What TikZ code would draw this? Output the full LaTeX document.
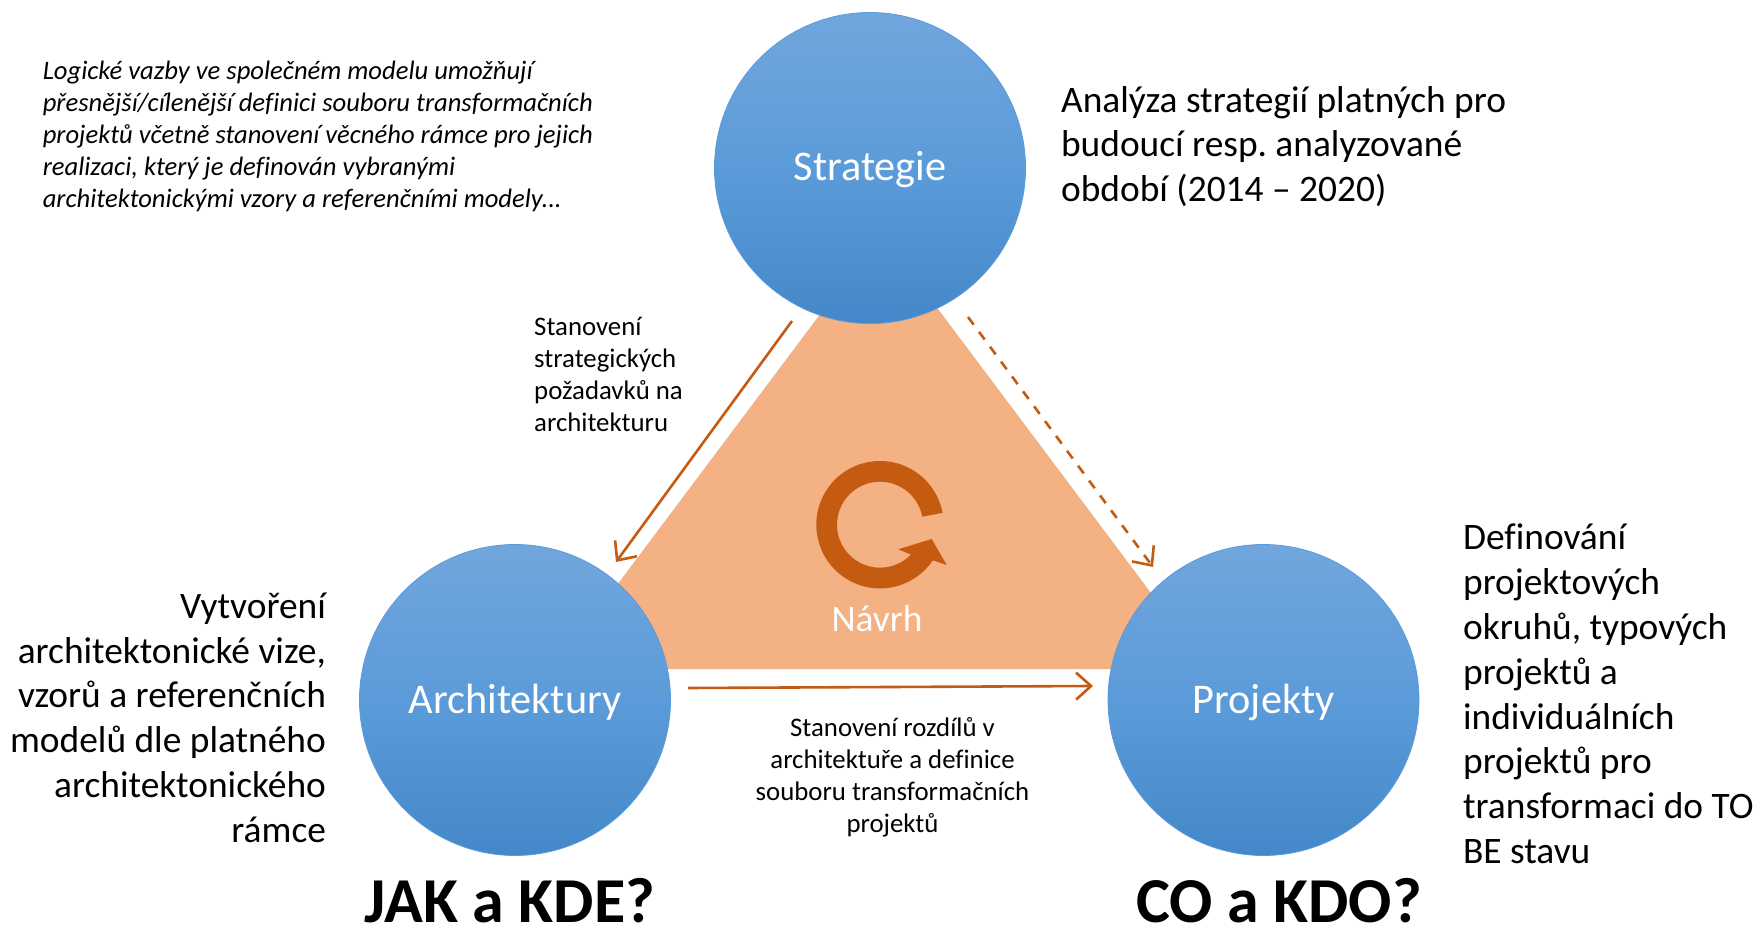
\documentclass[tikz,border=0pt]{standalone}
\usepackage{fontspec}
\setmainfont{Carlito}[Ligatures=NoCommon]
\usetikzlibrary{arrows.meta,positioning,calc}

\definecolor{navrhfill}{HTML}{F4B183}
\definecolor{navrhdark}{HTML}{C55A11}
\definecolor{kruhtop}{HTML}{71A6DD}
\definecolor{kruhmid}{HTML}{5B9BD9}
\definecolor{kruhbot}{HTML}{4488C9}

\tikzset{
  kruh/.style={circle,minimum size=311pt,inner sep=0pt,draw=kruhmid,line width=.8pt,
    top color=kruhtop,bottom color=kruhbot,middle color=kruhmid,
    text=white,text height=36pt,text depth=10pt,font=\fontsize{42.3}{49}\selectfont},
  velky/.style={inner sep=0pt,font=\fontsize{37.4}{44.8}\selectfont},
  maly/.style={inner sep=0pt,font=\fontsize{26.8}{32}\selectfont},
  otazka/.style={inner sep=0pt,anchor=base,font=\fontsize{64}{72}\selectfont\bfseries},
  sipka/.style={draw=navrhdark,line width=2.6pt,-{Straight Barb[length=15pt,width=27pt,line width=2.6pt]}}
}

\begin{document}
\frenchspacing
\begin{tikzpicture}[x=1pt,y=1pt]
      \useasboundingbox (0,0) rectangle (1758,927);

      \coordinate (t1) at (881,694);
      \coordinate (t2) at (554,258);
      \coordinate (t3) at (1208,258);
      \fill[navrhfill] (t1)--(t2)--(t3)--cycle;

      \node[kruh] (strategie) at (870,759) {Strategie};
      \node[kruh] (architektury) at (515,227) {Architektury};
      \node[kruh] (projekty) at (1263.5,227) {Projekty};

      \coordinate (s1) at (792,606);
      \coordinate (s2) at (616,365);
      \draw[sipka] (s1)--(s2);

      \coordinate (d1) at (968,610);
      \coordinate (d2) at (1153,360);
      \draw[sipka,dash pattern=on 9.5pt off 9pt] (d1)--(d2);

      \coordinate (a1) at (688,239);
      \coordinate (a2) at (1093,241);
      \draw[sipka] (a1)--(a2);

      % sipka v trojuhelniku
      \coordinate (c) at (880,402.3);
      \fill[navrhdark] ($(c)+(10.7:63.7)$) arc[start angle=10.7,end angle=326,radius=63.7]
        -- (946.7,362) -- (931.7,388) -- (898.3,377.7) -- ($(c)+(316:43)$)
        arc[start angle=316,end angle=10.7,radius=43] -- cycle;
      \node[inner sep=0pt,text=white,font=\fontsize{37.4}{44}\selectfont] (navrh) at (877,308) {Návrh};

      \node[velky,align=left,right=35pt of strategie,yshift=21.5pt] (popis1) {Analýza strategií platných pro\\budoucí resp. analyzované\\období (2014 – 2020)};
      \node[velky,align=right,left=33pt of architektury,yshift=-17.6pt] (popis2) {Vytvoření\\architektonické vize,\\vzorů a referenčních\\modelů dle platného\\architektonického\\rámce};
      \node[velky,align=left,right=43.5pt of projekty,yshift=6pt] (popis3) {Definování\\projektových\\okruhů, typových\\projektů a\\individuálních\\projektů pro\\transformaci do TO\\BE stavu};

      \node[maly,align=left,anchor=west,font=\fontsize{26.6}{32}\selectfont] (poznamka) at (42.6,790.3) {\itshape Logické vazby ve společném modelu umožňují\\\itshape přesnější/cílenější definici souboru transformačních\\\itshape projektů včetně stanovení věcného rámce pro jejich\\\itshape realizaci, který je definován vybranými\\\itshape architektonickými vzory a referenčními modely...};
      \node[maly,align=left,anchor=west] (s1text) at (534,552.5) {Stanovení\\strategických\\požadavků na\\architekturu};
      \node[maly,align=center] (a1text) at (892.5,150) {Stanovení rozdílů v\\architektuře a definice\\souboru transformačních\\projektů};

      \node[otazka] (jak) at (510,5) {JAK a KDE?};
      \node[otazka] (co) at (1279,5) {CO a KDO?};
    \end{tikzpicture}
\end{document}
